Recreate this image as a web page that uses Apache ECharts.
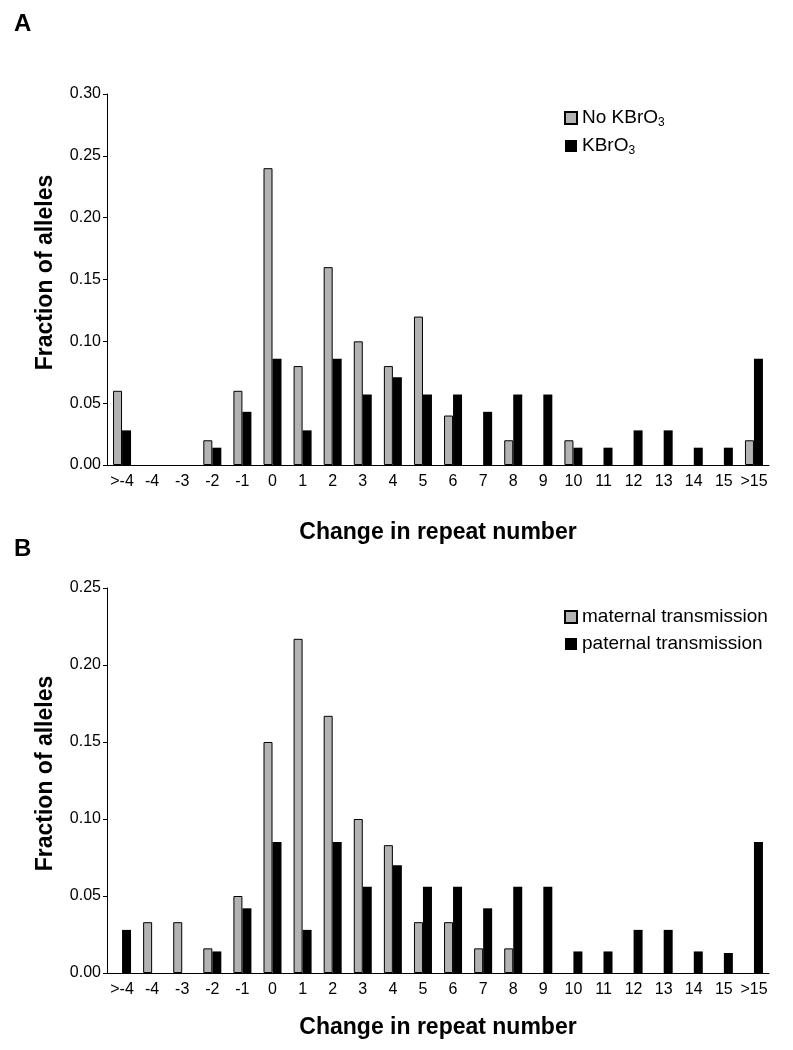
<!DOCTYPE html>
<html>
<head>
<meta charset="utf-8">
<script src="https://cdn.jsdelivr.net/npm/echarts@6/dist/echarts.min.js"></script>
<style>
html,body{margin:0;padding:0;background:#fff;}
#chart{width:793px;height:1050px;}
</style>
</head>
<body>
<div id="chart"></div>
<script>
// Data
var categories = ['>-4','-4','-3','-2','-1','0','1','2','3','4','5','6','7','8','9','10','11','12','13','14','15','>15'];
var noKBrO3 =  [0.06, 0, 0, 0.02, 0.06, 0.24, 0.08, 0.16, 0.10, 0.08, 0.12, 0.04, 0, 0.02, 0, 0.02, 0, 0, 0, 0, 0, 0.02];
var kBrO3 =    [0.028, 0, 0, 0.014, 0.043, 0.086, 0.028, 0.086, 0.057, 0.071, 0.057, 0.057, 0.043, 0.057, 0.057, 0.014, 0.014, 0.028, 0.028, 0.014, 0.014, 0.086];
var maternal = [0, 0.033, 0.033, 0.016, 0.05, 0.15, 0.217, 0.167, 0.10, 0.083, 0.033, 0.033, 0.016, 0.016, 0, 0, 0, 0, 0, 0, 0, 0];
var paternal = [0.028, 0, 0, 0.014, 0.042, 0.085, 0.028, 0.085, 0.056, 0.070, 0.056, 0.056, 0.042, 0.056, 0.056, 0.014, 0.014, 0.028, 0.028, 0.014, 0.013, 0.085];
var yTicksA = {min: 0, max: 0.30, interval: 0.05};
var yTicksB = {min: 0, max: 0.25, interval: 0.05};

var FONT = '"Liberation Sans", Arial, Helvetica, sans-serif';
var GRAY = '#b3b3b3';

function xAxis(gridIndex, nameGap) {
  return {
    type: 'category', gridIndex: gridIndex, data: categories,
    axisLine: {lineStyle: {color: '#000', width: 1}},
    axisTick: {show: false},
    axisLabel: {color: '#000', fontSize: 16, fontFamily: FONT, margin: 9, interval: 0},
    name: 'Change in repeat number', nameLocation: 'middle', nameGap: nameGap,
    nameTextStyle: {color: '#000', fontSize: 23, fontWeight: 'bold', fontFamily: FONT}
  };
}
function yAxis(gridIndex, t) {
  return {
    type: 'value', gridIndex: gridIndex, min: t.min, max: t.max, interval: t.interval,
    axisLine: {show: true, lineStyle: {color: '#000', width: 1}},
    axisTick: {show: true, length: 4, lineStyle: {color: '#000'}},
    splitLine: {show: false},
    axisLabel: {color: '#000', fontSize: 16, fontFamily: FONT, margin: 6,
      formatter: function (v) { return v.toFixed(2); }},
    name: 'Fraction of alleles', nameLocation: 'middle', nameGap: 50,
    nameTextStyle: {color: '#000', fontSize: 23, fontWeight: 'bold', fontFamily: FONT, padding: [0, 0, 0, 14]}
  };
}
function bar(name, data, idx, gray) {
  return {
    name: name, type: 'bar', xAxisIndex: idx, yAxisIndex: idx,
    data: data.map(function (v) { return v === 0 ? '-' : v; }),
    barWidth: 9, barGap: '0%',
    itemStyle: gray ? {color: GRAY, borderColor: '#000', borderWidth: 1} : {color: '#000'},
    emphasis: {disabled: true}, animation: false
  };
}
var legendText = {color: '#000', fontSize: 19, fontFamily: FONT, lineHeight: 22,
  rich: {s: {fontSize: 12, fontFamily: FONT, color: '#000', padding: [9, 0, 0, 0], lineHeight: 22}}};

var chart = echarts.init(document.getElementById('chart'), null, {renderer: 'canvas'});
chart.setOption({
  backgroundColor: '#fff',
  animation: false,
  title: [
    {text: 'A', left: 9, top: 7, textStyle: {fontSize: 24, fontWeight: 'bold', fontFamily: FONT, color: '#000'}},
    {text: 'B', left: 9, top: 532, textStyle: {fontSize: 24, fontWeight: 'bold', fontFamily: FONT, color: '#000'}}
  ],
  grid: [
    {left: 107, right: 24, top: 94, height: 371},
    {left: 107, right: 24, top: 588, height: 385}
  ],
  legend: [
    {data: ['No KBrO3', 'KBrO3'], orient: 'vertical', left: 564, top: 107, padding: 0, icon: 'rect',
     itemWidth: 12, itemHeight: 12, itemGap: 6, textStyle: legendText, selectedMode: false,
     formatter: function (n) { return n === 'KBrO3' ? 'KBrO{s|3}' : 'No KBrO{s|3}'; }},
    {data: ['maternal transmission', 'paternal transmission'], orient: 'vertical', left: 564, top: 606,
     padding: 0, icon: 'rect', itemWidth: 12, itemHeight: 12, itemGap: 5, textStyle: legendText, selectedMode: false}
  ],
  xAxis: [xAxis(0, 56), xAxis(1, 43)],
  yAxis: [yAxis(0, yTicksA), yAxis(1, yTicksB)],
  series: [
    bar('No KBrO3', noKBrO3, 0, true),
    bar('KBrO3', kBrO3, 0, false),
    bar('maternal transmission', maternal, 1, true),
    bar('paternal transmission', paternal, 1, false)
  ]
});
</script>
</body>
</html>
